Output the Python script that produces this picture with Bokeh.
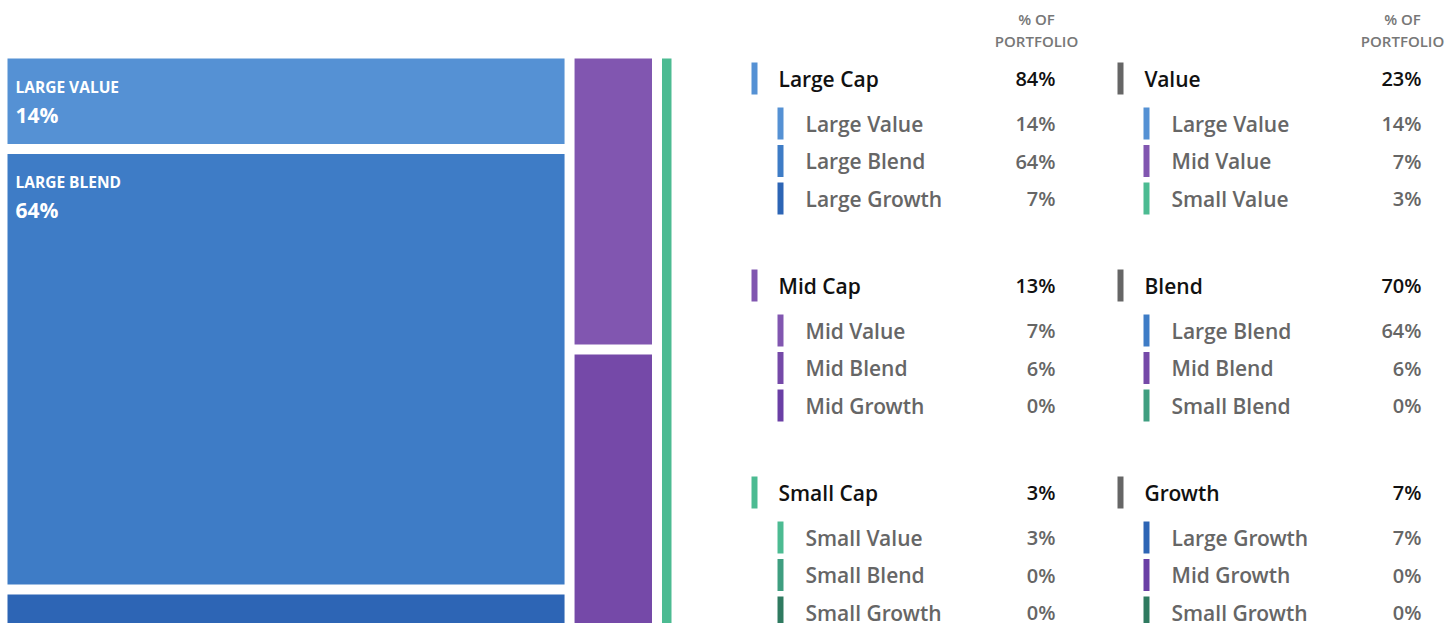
from bokeh.plotting import figure
from bokeh.models import Range1d, ColumnDataSource
from bokeh.core.properties import value
from bokeh.embed import file_html
from bokeh.resources import INLINE

# ---------------- data ----------------
caps = ["Large", "Mid", "Small"]
styles = ["Value", "Blend", "Growth"]
large_pct = [13.8, 63.7, 6.8]   # Large Value, Large Blend, Large Growth
mid_pct = [6.6, 6.4, 0.0]       # Mid Value, Mid Blend, Mid Growth
small_pct = [2.9, 0.0, 0.0]     # Small Value, Small Blend, Small Growth
cap_colors = ["#5591d4", "#8156b0", "#4cbb92"]
large_colors = ["#5591d4", "#3e7cc6", "#2d65b5"]
mid_colors = ["#8156b0", "#7549a8", "#6a3fa5"]
small_colors = ["#4cbb92", "#3f9e80", "#2f7a60"]
style_header_color = "#666666"
col_header = ["% OF", "PORTFOLIO"]

grid = [large_pct, mid_pct, small_pct]
grid_colors = [large_colors, mid_colors, small_colors]

FONT = value("Open Sans")
SEMI = value("'Open Sans SemiBold', 'Open Sans'")
W, H = 1447, 623
p = figure(width=W, height=H, x_range=Range1d(0, W), y_range=Range1d(H, 0),
           output_backend="svg", toolbar_location=None,
           x_axis_location=None, y_axis_location=None, min_border=0)
p.grid.visible = False
p.outline_line_color = None
p.background_fill_color = "white"
p.border_fill_color = "white"

# ---------------- treemap ----------------
TX0, TY0, TW, TH, GAP = 7, 58, 674, 583, 10
total = sum(sum(r) for r in grid)
tm = dict(left=[], right=[], top=[], bottom=[], color=[])
lab = dict(x=[], y=[], text=[])
labp = dict(x=[], y=[], text=[])
x = TX0
for ci, cap in enumerate(caps):
    ctot = sum(grid[ci])
    cw = ctot / total * TW
    y = TY0
    for si, st in enumerate(styles):
        v = grid[ci][si]
        if v <= 0:
            continue
        h = v / ctot * TH
        tm["left"].append(x)
        tm["right"].append(x + cw - GAP)
        tm["top"].append(y)
        tm["bottom"].append(y + h - GAP)
        tm["color"].append(grid_colors[ci][si])
        if cw - GAP > 200 and h - GAP > 70:
            lab["x"].append(x + 8)
            lab["y"].append(y + 28)
            lab["text"].append(f"{cap} {st}".upper())
            labp["x"].append(x + 8)
            labp["y"].append(y + 56)
            labp["text"].append(f"{round(v)}%")
        y += h
    x += cw

p.quad(left="left", right="right", top="top", bottom="bottom", color="color",
       line_color=None, source=ColumnDataSource(tm))
p.text(x="x", y="y", text="text", source=ColumnDataSource(lab), text_font=FONT,
       text_font_size="15.5px", text_font_style="bold", text_color="white",
       text_baseline="middle", text_align="left")
p.text(x="x", y="y", text="text", source=ColumnDataSource(labp), text_font=FONT,
       text_font_size="21px", text_font_style="bold", text_color="white",
       text_baseline="middle", text_align="left")

# ---------------- legend tables ----------------
G0, GSTEP = 78, 207
SUB_DY = 45
SUB_STEP = 37.5
BAR_H = 32

left_groups = []
for ci, cap in enumerate(caps):
    rows = [(f"{cap} {st}", grid[ci][si], grid_colors[ci][si]) for si, st in enumerate(styles)]
    left_groups.append((f"{cap} Cap", sum(grid[ci]), cap_colors[ci], rows))
right_groups = []
for si, st in enumerate(styles):
    rows = [(f"{cap} {st}", grid[ci][si], grid_colors[ci][si]) for ci, cap in enumerate(caps)]
    right_groups.append((st, sum(grid[ci][si] for ci in range(3)), style_header_color, rows))

bars = dict(left=[], right=[], top=[], bottom=[], color=[])
htxt = dict(x=[], y=[], text=[])
hval = dict(x=[], y=[], text=[])
stxt = dict(x=[], y=[], text=[])
sval = dict(x=[], y=[], text=[])
chdr = dict(x=[], y=[], text=[])

for ti, groups in enumerate([left_groups, right_groups]):
    ox = 751 + ti * 366  # base x of the table
    for li, line in enumerate(col_header):
        chdr["x"].append(ox + 285)
        chdr["y"].append(18 + li * 22)
        chdr["text"].append(line)
    for gi, (name, tot, col, rows) in enumerate(groups):
        gy = G0 + gi * GSTEP
        bars["left"].append(ox)
        bars["right"].append(ox + 6)
        bars["top"].append(gy - BAR_H / 2)
        bars["bottom"].append(gy + BAR_H / 2)
        bars["color"].append(col)
        htxt["x"].append(ox + 27)
        htxt["y"].append(gy)
        htxt["text"].append(name)
        hval["x"].append(ox + 304)
        hval["y"].append(gy)
        hval["text"].append(f"{round(tot)}%")
        for ri, (rname, rv, rcol) in enumerate(rows):
            ry = gy + SUB_DY + ri * SUB_STEP
            bars["left"].append(ox + 26)
            bars["right"].append(ox + 32)
            bars["top"].append(ry - BAR_H / 2)
            bars["bottom"].append(ry + BAR_H / 2)
            bars["color"].append(rcol)
            stxt["x"].append(ox + 54)
            stxt["y"].append(ry)
            stxt["text"].append(rname)
            sval["x"].append(ox + 304)
            sval["y"].append(ry)
            sval["text"].append(f"{round(rv)}%")

p.quad(left="left", right="right", top="top", bottom="bottom", color="color",
       line_color=None, source=ColumnDataSource(bars))
p.text(x="x", y="y", text="text", source=ColumnDataSource(chdr), text_font=SEMI,
       text_font_size="15px", text_font_style="normal", text_color="#777777",
       text_baseline="middle", text_align="center")
p.text(x="x", y="y", text="text", source=ColumnDataSource(htxt), text_font=SEMI,
       text_font_size="21px", text_font_style="normal", text_color="#111111",
       text_baseline="middle", text_align="left")
p.text(x="x", y="y", text="text", source=ColumnDataSource(hval), text_font=SEMI,
       text_font_size="20px", text_font_style="normal", text_color="#111111",
       text_baseline="middle", text_align="right")
p.text(x="x", y="y", text="text", source=ColumnDataSource(stxt), text_font=SEMI,
       text_font_size="21px", text_font_style="normal", text_color="#666666",
       text_baseline="middle", text_align="left")
p.text(x="x", y="y", text="text", source=ColumnDataSource(sval), text_font=SEMI,
       text_font_size="20px", text_font_style="normal", text_color="#666666",
       text_baseline="middle", text_align="right")

open("out.html", "w").write(file_html(p, INLINE))
